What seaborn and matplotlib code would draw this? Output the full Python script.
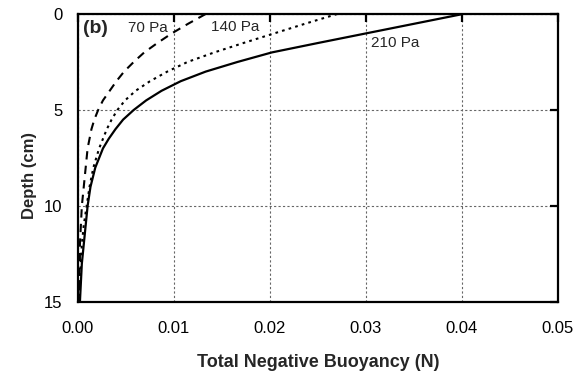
import matplotlib
matplotlib.use("Agg")
import matplotlib.pyplot as plt
import seaborn as sns

# depth below surface (cm)
depth = [0, 0.5, 1, 1.5, 2, 2.5, 3, 3.5, 4, 4.5, 5, 5.5, 6, 6.5, 7,
         8, 9, 10, 11, 12, 13, 14, 15]

# total negative buoyancy (N) for each applied stress
nb_70 = [0.0133, 0.0115, 0.0098, 0.0083, 0.0069, 0.0058, 0.0048, 0.0040, 0.0033,
         0.0026, 0.0021, 0.0017, 0.0014, 0.0012, 0.0010,
         0.0008, 0.0006, 0.0004, 0.0003, 0.0002, 0.0002, 0.0001, 0.0001]
nb_140 = [0.0270, 0.0237, 0.0205, 0.0173, 0.0142, 0.0114, 0.0093, 0.0075, 0.0060,
          0.0049, 0.0041, 0.0035, 0.0030, 0.0026, 0.0022,
          0.0016, 0.0012, 0.0009, 0.0006, 0.0004, 0.0003, 0.0002, 0.0001]
nb_210 = [0.0401, 0.0351, 0.0301, 0.0251, 0.0202, 0.0166, 0.0133, 0.0107, 0.0087,
          0.0071, 0.0058, 0.0047, 0.0039, 0.0032, 0.0026,
          0.0018, 0.0013, 0.0010, 0.0008, 0.0006, 0.0004, 0.0003, 0.0002]

x_ticks = [0.00, 0.01, 0.02, 0.03, 0.04, 0.05]
y_ticks = [0, 5, 10, 15]

sns.set_style("white")
plt.rcParams['font.family'] = ['Liberation Sans', 'DejaVu Sans']

fig = plt.figure(figsize=(5.82, 3.72), dpi=100)
ax = fig.add_axes([78 / 582, 1 - 302 / 372, 480 / 582, 288 / 372])

# one call per stress level, points kept in depth order
sns.lineplot(x=nb_70, y=depth, sort=False, estimator=None, color='black',
             lw=1.5, ax=ax)
ax.lines[-1].set_linestyle((0, (4, 3)))
sns.lineplot(x=nb_140, y=depth, sort=False, estimator=None, color='black',
             lw=1.5, ax=ax)
ax.lines[-1].set_linestyle((0, (1.3, 2)))
sns.lineplot(x=nb_210, y=depth, sort=False, estimator=None, color='black',
             lw=1.6, ax=ax)

ax.set_xlim(0, 0.05)
ax.set_ylim(15, 0)
ax.set_xticks(x_ticks)
ax.set_xticklabels([f"{v:.2f}" for v in x_ticks])
ax.set_yticks(y_ticks)

ax.grid(True, color='#666666', linestyle=(0, (2, 2)), linewidth=0.8)
for s in ax.spines.values():
    s.set_color('black')
    s.set_linewidth(1.6)
    s.set_visible(True)

ax.tick_params(direction='in', length=6, width=1.6, top=True, right=True,
               labelsize=12, colors='black')
ax.tick_params(axis='x', pad=14)
ax.tick_params(axis='y', pad=11)

ax.set_xlabel('Total Negative Buoyancy (N)', fontsize=13, fontweight='bold')
ax.set_ylabel('Depth (cm)', fontsize=12, fontweight='bold')
ax.xaxis.set_label_coords(0.5, -0.18)
ax.yaxis.set_label_coords(-0.085, 0.44)

ax.text(0.0005, 0.75, '(b)', fontsize=14, fontweight='bold', va='center')
ax.text(0.0052, 0.73, '70 Pa', fontsize=11, va='center')
ax.text(0.01385, 0.68, '140 Pa', fontsize=11, va='center')
ax.text(0.0305, 1.51, '210 Pa', fontsize=11, va='center')

fig.savefig('out.png', dpi=100)
